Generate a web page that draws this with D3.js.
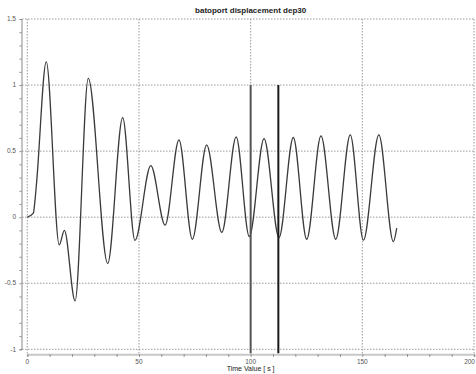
<!DOCTYPE html>
<html>
<head>
<meta charset="utf-8">
<script src="https://cdn.jsdelivr.net/npm/d3@7"></script>
<style>
  body { margin: 0; background: #fff; }
  svg { display: block; font-family: "Liberation Sans", Arial, sans-serif; }
  .grid line { stroke: #9a9a9a; stroke-width: 1; stroke-dasharray: 1.5,1.5; }
  .tick-lbl { fill: #555; font-size: 6.5px; }
</style>
</head>
<body>
<div id="chart"></div>
<script>
// time samples [s] (extrema + a few shape points)
const timeValues = [0, 2.7, 3.4, 4.2, 8.5, 14.3, 16.6, 21.4, 27.3, 36, 42.7, 48.2, 55.3, 61.7,
  67.9, 73.9, 80.3, 87.1, 93.5, 99.4, 106, 112.7, 119.1, 125.1, 131.5, 138.1, 144.6,
  150.5, 157.4, 163.9, 165.4];
const displacement = [0, 0.03, 0.12, 0.27, 1.176, -0.21, -0.1, -0.634, 1.05, -0.35, 0.754, -0.175,
  0.39, -0.06, 0.585, -0.167, 0.547, -0.116, 0.608, -0.147, 0.595, -0.154, 0.603, -0.167,
  0.615, -0.167, 0.623, -0.174, 0.623, -0.185, -0.083];

// cursor markers
const cursorTimes = [100, 112.4];
const cursorColors = ["#555", "#1a1a1a"];

const yMajor = [-1, -0.5, 0, 0.5, 1, 1.5];
const yLabels = ["-1", "-0.5", "0", "0.5", "1", "1.5"];
const xMajor = [0, 50, 100, 150, 200];
const xLabels = ["0", "50", "100", "150", "200"];

const W = 476, H = 374;
const margin = {top: 19, right: 2, bottom: 24.7, left: 27.3};

const svg = d3.select("#chart").append("svg")
  .attr("width", W).attr("height", H);

const x = d3.scaleLinear().domain([0, 200]).range([margin.left, W - margin.right]);
const y = d3.scaleLinear().domain([-1, 1.5]).range([H - margin.bottom, margin.top]);

// title
svg.append("text")
  .attr("x", (x(0) + x(200)) / 2).attr("y", 12.5)
  .attr("text-anchor", "middle")
  .style("font-size", "8px").style("font-weight", "bold").style("fill", "#222")
  .text("batoport displacement dep30");

// grid
let grid = svg.append("g").attr("class", "grid");
grid.selectAll(".hg").data(yMajor).enter().append("line")
  .attr("x1", 22).attr("x2", x(200))
  .attr("y1", d => y(d)).attr("y2", d => y(d));
grid.selectAll(".vg").data(xMajor).enter().append("line")
  .attr("x1", d => x(d)).attr("x2", d => x(d))
  .attr("y1", y(1.5)).attr("y2", y(-1) + 4);

// y axis: line, minor ticks, labels
let yAxisG = svg.append("g").attr("transform", "translate(21.5,0)");
yAxisG.call(d3.axisLeft(y).tickValues(d3.range(-10, 16).map(d => d / 10))
  .tickSize(2).tickFormat(""));
yAxisG.select(".domain").attr("stroke", "#888").attr("stroke-width", 1);
yAxisG.selectAll(".tick line").attr("stroke", "#888");
svg.selectAll(".ylbl").data(yMajor).enter().append("text")
  .attr("class", "tick-lbl")
  .attr("x", 16).attr("y", d => y(d) + 2.2)
  .attr("text-anchor", "end")
  .text((d, i) => yLabels[i]);

// x axis: thick light line, minor ticks, labels
let xAxisG = svg.append("g").attr("transform", "translate(0," + (y(-1) + 5) + ")");
xAxisG.call(d3.axisBottom(x).tickValues(d3.range(0, 201, 10)).tickSize(2.5).tickFormat(""));
xAxisG.select(".domain").attr("stroke", "#c8c8c8").attr("stroke-width", 2);
xAxisG.selectAll(".tick line").attr("stroke", "#888");
svg.selectAll(".xlbl").data(xMajor).enter().append("text")
  .attr("class", "tick-lbl")
  .attr("x", d => d === 200 ? W - 1 : x(d)).attr("y", y(-1) + 14.5)
  .attr("text-anchor", d => d === 200 ? "end" : "middle")
  .text((d, i) => xLabels[i]);

svg.append("text")
  .attr("x", (x(0) + x(200)) / 2).attr("y", H - 3)
  .attr("text-anchor", "middle")
  .style("font-size", "7px").style("fill", "#222")
  .text("Time Value [ s ]");

// trace
const pts = timeValues.map((t, i) => [t, displacement[i]]);
const line = d3.line()
  .x(d => x(d[0])).y(d => y(d[1]))
  .curve(d3.curveMonotoneX);
svg.append("path")
  .datum(pts)
  .attr("d", line)
  .attr("fill", "none")
  .attr("stroke", "#3a3a3a")
  .attr("stroke-width", 1.3);

// cursors
svg.selectAll(".cursor").data(cursorTimes).enter().append("line")
  .attr("x1", d => x(d)).attr("x2", d => x(d))
  .attr("y1", y(1)).attr("y2", y(-1) + 4)
  .attr("stroke", (d, i) => cursorColors[i])
  .attr("stroke-width", 2);
</script>
</body>
</html>
